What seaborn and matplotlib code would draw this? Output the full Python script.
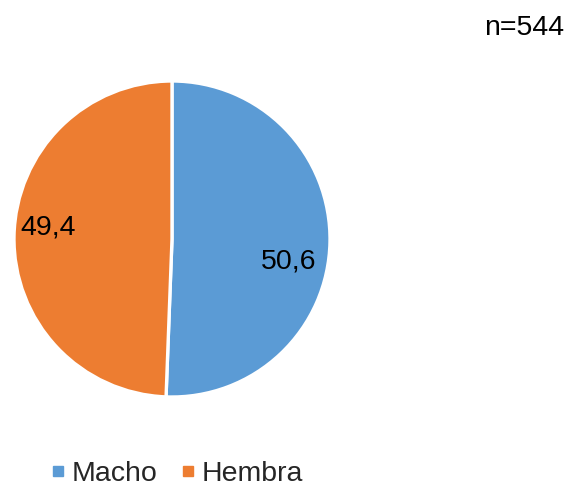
import matplotlib
matplotlib.use("Agg")
import matplotlib.pyplot as plt
from matplotlib.lines import Line2D
import seaborn as sns
import numpy as np

categories = ["Macho", "Hembra"]
values = [50.6, 49.4]
colors = ["#5B9BD5", "#ED7D31"]
sample_note = "n=544"

sns.set_theme(style="white")
plt.rcParams["font.family"] = ["Liberation Sans", "DejaVu Sans"]

W, H = 568, 487
fig = plt.figure(figsize=(W / 100, H / 100), dpi=100)
fig.patch.set_facecolor("white")

cx, cy, r = 172, 239, 158
ax = fig.add_axes([(cx - r) / W, (H - cy - r) / H, 2 * r / W, 2 * r / H])

wedges, _ = ax.pie(
    values,
    colors=colors,
    startangle=90,
    counterclock=False,
    radius=1.0,
    wedgeprops=dict(edgecolor="white", linewidth=2.4),
)
ax.set_xlim(-1, 1)
ax.set_ylim(-1, 1)
ax.set_aspect("equal")
ax.axis("off")

# value labels placed inside each wedge, slightly shifted from the wedge middle
label_dist = [0.75, 0.79]
angle_shift = [-10.0, -4.0]
for w, v, d, s in zip(wedges, values, label_dist, angle_shift):
    mid = np.deg2rad((w.theta1 + w.theta2) / 2 + s)
    ax.text(d * np.cos(mid), d * np.sin(mid), f"{v:.1f}".replace(".", ","),
            ha="center", va="center", fontsize=20.5, color="black")

fig.text(564 / W, 1 - 28 / H, sample_note, ha="right", va="center",
         fontsize=20.5, color="black")

handles = [Line2D([0], [0], marker="s", linestyle="none", markersize=7,
                  markerfacecolor=c, markeredgecolor=c) for c in colors]
fig.legend(handles, categories, loc="center", bbox_to_anchor=(174 / W, 1 - 474 / H),
           ncol=2, frameon=False, fontsize=20.5, handletextpad=0.05,
           columnspacing=0.6, handlelength=0.9, borderaxespad=0)

fig.savefig("out.png", dpi=100, facecolor="white")
